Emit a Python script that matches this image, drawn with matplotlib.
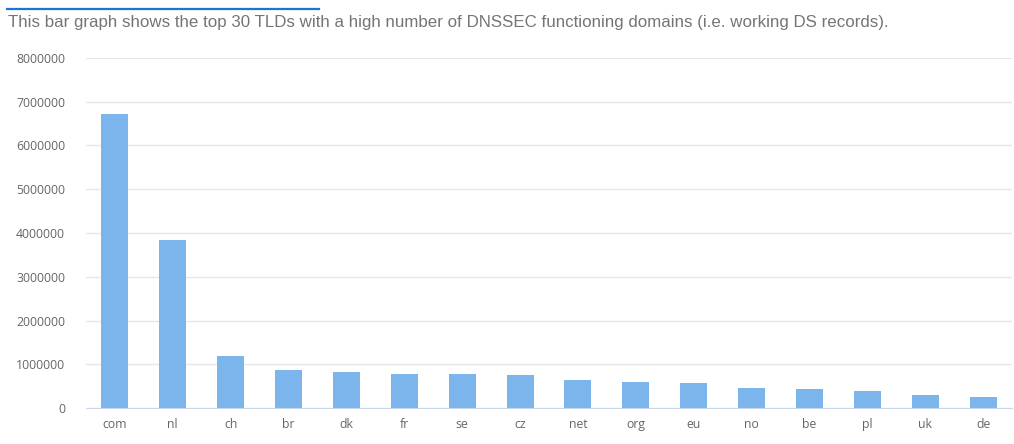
import matplotlib
matplotlib.use('Agg')
import matplotlib.pyplot as plt
import numpy as np

tlds = ['com', 'nl', 'ch', 'br', 'dk', 'fr', 'se', 'cz', 'net', 'org', 'eu', 'no', 'be', 'pl', 'uk', 'de']
domains = [6720000, 3840000, 1190000, 870000, 820000, 780000, 780000, 755000,
           640000, 595000, 570000, 457000, 434000, 389000, 297000, 250000]
yticks = [0, 1000000, 2000000, 3000000, 4000000, 5000000, 6000000, 7000000, 8000000]

plt.rcParams['font.family'] = ['Liberation Sans', 'DejaVu Sans']

fig = plt.figure(figsize=(10.14, 4.44), dpi=100)
ax = fig.add_axes([86 / 1014, 1 - 408 / 444, 926 / 1014, 350 / 444])

x = np.arange(len(tlds))
ax.bar(x, domains, width=0.466, color='#7cb5ec', zorder=3)

ax.set_xlim(-0.5, len(tlds) - 0.5)
ax.set_ylim(0, 8000000)
ax.set_yticks(yticks)
ax.set_yticklabels([str(v) for v in yticks], family=['Open Sans', 'DejaVu Sans'])
ax.set_xticks(x)
ax.set_xticklabels(tlds, family=['Open Sans', 'DejaVu Sans'])

ax.grid(axis='y', color='#e6e6e6', linewidth=1, zorder=0)
for s in ['top', 'right', 'left']:
    ax.spines[s].set_visible(False)
ax.spines['bottom'].set_color('#ccd6eb')
ax.spines['bottom'].set_zorder(4)
ax.tick_params(axis='both', length=0, labelsize=8.8, colors='#666666')
ax.tick_params(axis='y', pad=15)
ax.tick_params(axis='x', pad=7)

# header line and caption
fig.add_artist(plt.Line2D([7 / 1014, 319 / 1014], [1 - 9 / 444, 1 - 9 / 444],
                          color='#1976d2', linewidth=1.6))
fig.text(8 / 1014, 1 - 22 / 444,
         'This bar graph shows the top 30 TLDs with a high number of DNSSEC functioning domains (i.e. working DS records).',
         fontsize=12.15, color='#757575', va='center', ha='left')

fig.savefig('out.png', dpi=100)
